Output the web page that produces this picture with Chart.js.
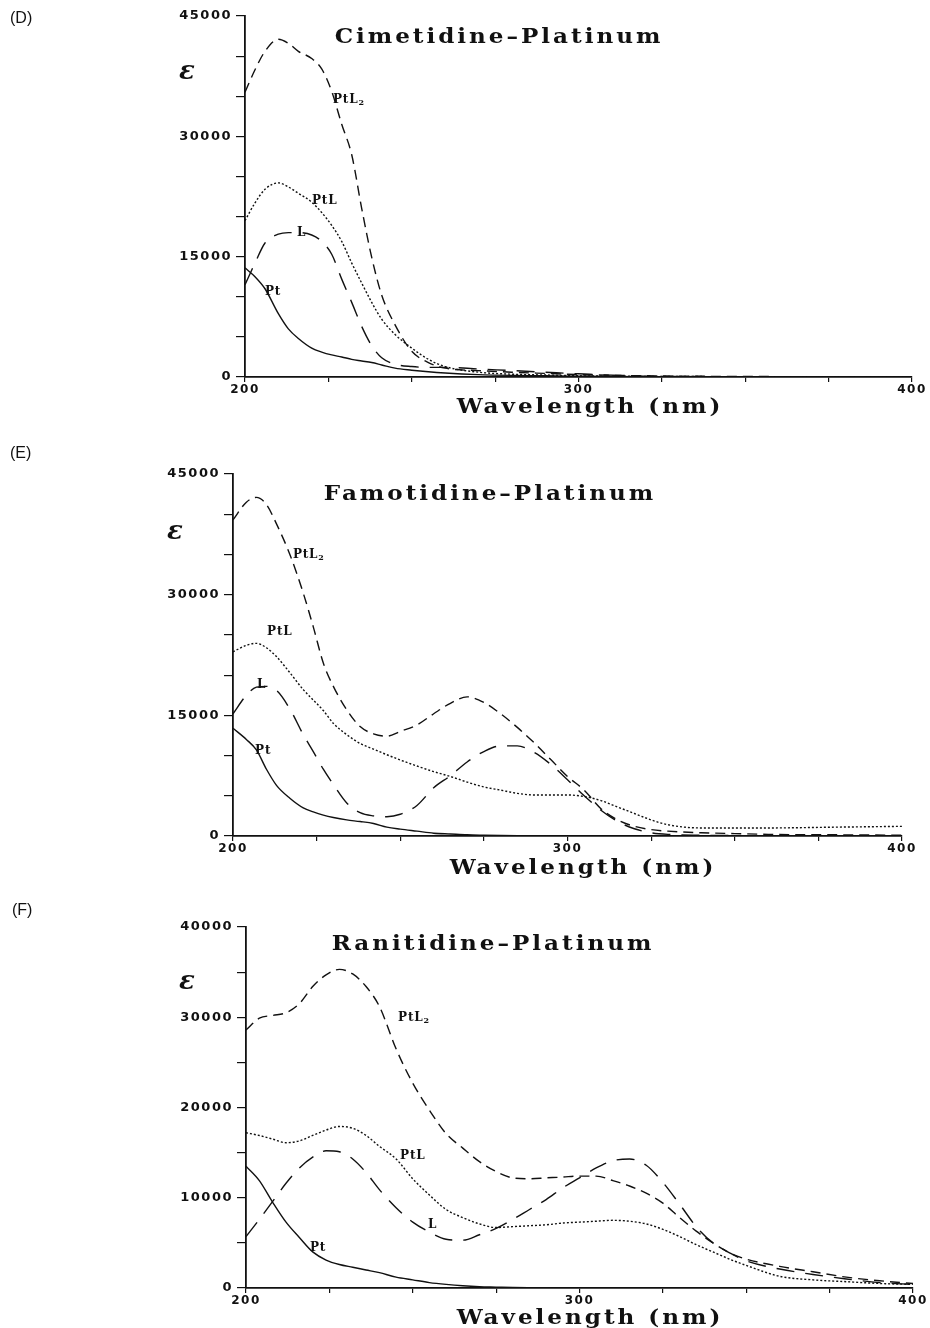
<!DOCTYPE html>
<html>
<head>
<meta charset="utf-8">
<script src="https://cdn.jsdelivr.net/npm/chart.js@4.4.1/dist/chart.umd.min.js"></script>
<style>
  body { margin: 0; background: #fff; }
  #page { position: relative; width: 930px; height: 1328px; overflow: hidden; background: #fff; }
  canvas { position: absolute; left: 0; }
  .txt { position: absolute; transform: translate(-50%, -50%); white-space: nowrap; color: #111; }
  .letter { font: 16px "Liberation Sans", Arial, sans-serif; transform: translate(0, -50%); }
  .title, .xlab { font: bold 21px "DejaVu Serif", serif; letter-spacing: 2.7px; transform: translate(-50%, -50%) scaleX(1.1); }
  .eps { font: italic bold 26px "DejaVu Serif", serif; }
</style>
</head>
<body>
<div id="page">
  <canvas id="chartD" style="top:0" width="930" height="420"></canvas>
  <canvas id="chartE" style="top:420px" width="930" height="460"></canvas>
  <canvas id="chartF" style="top:880px" width="930" height="448"></canvas>

  <div class="txt letter" style="left:10px; top:18px">(D)</div>
  <div class="txt title" style="left:499px; top:35px">Cimetidine–Platinum</div>
  <div class="txt eps" style="left:187px; top:70px">ε</div>
  <div class="txt xlab" style="left:590px; top:405px">Wavelength (nm)</div>

  <div class="txt letter" style="left:10px; top:453px">(E)</div>
  <div class="txt title" style="left:490px; top:492px">Famotidine–Platinum</div>
  <div class="txt eps" style="left:175px; top:530px">ε</div>
  <div class="txt xlab" style="left:583px; top:866px">Wavelength (nm)</div>

  <div class="txt letter" style="left:12px; top:910px">(F)</div>
  <div class="txt title" style="left:493px; top:942px">Ranitidine–Platinum</div>
  <div class="txt eps" style="left:187px; top:980px">ε</div>
  <div class="txt xlab" style="left:590px; top:1316px">Wavelength (nm)</div>
</div>
<script>
// DATA

const xTickLabels = [200, 300, 400];

// (D) Cimetidine-Platinum
const wlD = [200, 203, 206, 210, 213, 216, 220, 223, 226, 229, 232, 235, 238, 241, 245, 250, 255, 260, 270, 280, 290, 300, 320, 340, 360, 380, 400];
const dPtL2 = [35500, 38300, 40600, 42100, 41600, 40600, 39700, 38400, 35600, 31500, 27700, 21000, 14900, 10200, 6500, 3200, 1800, 1100, 800, 600, 450, 300, 150, 80, 50, 30, 0];
const dPtL = [19500, 21700, 23400, 24200, 23700, 22900, 21800, 20500, 18900, 16900, 14200, 11700, 9300, 7200, 5300, 3600, 2200, 1300, 600, 350, 250, 150, 80, 50, 30, 20, 0];
const dL = [11500, 14200, 16700, 17800, 18000, 18000, 17700, 16900, 15300, 12200, 9300, 6300, 3900, 2400, 1600, 1300, 1200, 1200, 1000, 800, 600, 400, 100, 50, 30, 20, 0];
const dPt = [13600, 12500, 11000, 7900, 6000, 4800, 3600, 3100, 2750, 2500, 2200, 2000, 1800, 1500, 1100, 850, 650, 500, 300, 200, 150, 100, 50, 30, 20, 10, 0];
const yTickLabelsD = [0, 15000, 30000, 45000];

// (E) Famotidine-Platinum
const wlE = [200, 204, 207, 210, 213, 217, 221, 224, 227, 230, 234, 238, 242, 246, 250, 255, 260, 265, 270, 275, 280, 285, 290, 295, 300, 305, 310, 315, 320, 325, 330, 340, 350, 360, 380, 400];
const ePtL2 = [39300, 41500, 42100, 41200, 38800, 35000, 30200, 26000, 21500, 18600, 15700, 13600, 12700, 12400, 13000, 13800, 15200, 16500, 17300, 16600, 15200, 13500, 11600, 9500, 7400, 5700, 3400, 2000, 1200, 800, 600, 400, 300, 200, 150, 100];
const ePtL = [22900, 23700, 23950, 23400, 22300, 20300, 18200, 16900, 15600, 14000, 12600, 11500, 10800, 10100, 9450, 8700, 8000, 7400, 6700, 6100, 5700, 5300, 5100, 5100, 5100, 4900, 4400, 3600, 2800, 2000, 1400, 1000, 1000, 1000, 1100, 1200];
const eL = [15200, 17500, 18500, 18600, 18100, 15800, 12600, 10500, 8300, 6400, 4100, 2900, 2500, 2400, 2700, 3800, 6000, 7500, 9200, 10500, 11200, 11200, 10400, 8900, 7000, 5000, 3200, 1800, 900, 400, 200, 100, 50, 30, 20, 0];
const ePt = [13400, 12000, 10700, 8300, 6300, 4700, 3500, 3000, 2600, 2300, 2000, 1800, 1550, 1100, 850, 600, 350, 250, 150, 100, 60, 40, 30, 20, 10, 10, 0, 0, 0, 0, 0, 0, 0, 0, 0, 0];
const yTickLabelsE = [0, 15000, 30000, 45000];

// (F) Ranitidine-Platinum
const wlF = [200, 204, 208, 212, 216, 220, 224, 228, 232, 236, 240, 245, 250, 255, 260, 265, 270, 275, 280, 285, 290, 295, 300, 305, 310, 315, 320, 325, 330, 335, 340, 345, 350, 360, 370, 380, 390, 400];
const fPtL2 = [28600, 29900, 30200, 30500, 31500, 33400, 34700, 35300, 34800, 33400, 31200, 26500, 22700, 19700, 17100, 15500, 14000, 12900, 12200, 12100, 12200, 12300, 12400, 12400, 11900, 11300, 10500, 9400, 7800, 6300, 5000, 3900, 3200, 2400, 1800, 1200, 800, 500];
const fPtL = [17200, 16900, 16500, 16100, 16300, 16900, 17500, 17900, 17700, 16900, 15700, 14300, 12100, 10300, 8700, 7800, 7100, 6700, 6800, 6900, 7000, 7200, 7300, 7400, 7500, 7400, 7100, 6500, 5700, 4800, 4000, 3200, 2500, 1300, 900, 700, 500, 400];
const fL = [5700, 7600, 9600, 11600, 13300, 14500, 15200, 15100, 14300, 12800, 10900, 8900, 7300, 6200, 5400, 5300, 5900, 6600, 7600, 8700, 9800, 11100, 12200, 13300, 14100, 14300, 13600, 11700, 9300, 6800, 5000, 3900, 3000, 2100, 1500, 1000, 600, 400];
const fPt = [13500, 11900, 9500, 7300, 5600, 4000, 3100, 2600, 2300, 2000, 1700, 1200, 900, 600, 400, 250, 150, 100, 50, 30, 20, 10, 0, 0, 0, 0, 0, 0, 0, 0, 0, 0, 0, 0, 0, 0, 0, 0];
const yTickLabelsF = [0, 10000, 20000, 30000, 40000];

// PLUGINS

// widen the tick numbers a little, the scanned ones are broad
const tickSpacing = {
    id: "tickSpacing",
    beforeDraw(chart) { chart.ctx.letterSpacing = "1.5px"; },
    afterDraw(chart) { chart.ctx.letterSpacing = "0px"; }
};

const curveLabels = {
    id: "curveLabels",
    afterDatasetsDraw(chart, args, opts) {
        const ctx = chart.ctx;
        const xs = chart.scales.x;
        const ys = chart.scales.y;
        ctx.save();
        ctx.letterSpacing = "0.8px";
        ctx.fillStyle = "#111";
        ctx.textBaseline = "middle";
        ctx.textAlign = "left";
        (opts.items || []).forEach(it => {
            const px = xs.getPixelForValue(it.at[0]);
            const py = ys.getPixelForValue(it.at[1]);
            ctx.font = 'bold 12px "DejaVu Serif"';
            ctx.fillText(it.text, px, py);
            if (it.sub) {
                const w = ctx.measureText(it.text).width;
                ctx.font = 'bold 8px "DejaVu Serif"';
                ctx.fillText(it.sub, px + w, py + 3);
            }
        });
        ctx.restore();
    }
};

// BUILD CHART

const Y_W = 70;
const X_H = 25;

function makeChart(id, wl, series, yMax, yLabels, area, labels) {
    const canvas = document.getElementById(id);
    const h = canvas.height;
    const datasets = series.map(s => ({
        data: wl.map((x, i) => ({ x: x, y: s.values[i] })),
        borderColor: "#111",
        borderWidth: 1.4,
        borderDash: s.dash,
        pointRadius: 0,
        fill: false,
        cubicInterpolationMode: "monotone"
    }));

    return new Chart(canvas, {
        type: "line",
        data: { datasets },
        options: {
            responsive: false,
            animation: false,
            events: [],
            layout: {
                padding: {
                    left: area.left - Y_W,
                    right: canvas.width - area.right,
                    top: area.top,
                    bottom: h - area.bottom - X_H
                }
            },
            plugins: {
                legend: { display: false },
                tooltip: { enabled: false },
                curveLabels: { items: labels }
            },
            scales: {
                x: {
                    type: "linear",
                    min: 200,
                    max: 400,
                    afterFit(s) { s.height = X_H; },
                    ticks: {
                        stepSize: 25,
                        autoSkip: false,
                        maxRotation: 0,
                        padding: 1,
                        color: "#111",
                        font: { family: "DejaVu Sans", size: 12, weight: "bold" },
                        callback: v => xTickLabels.includes(v) ? String(v) : ""
                    },
                    grid: { drawOnChartArea: false, drawTicks: true, tickLength: 5, color: "#111", lineWidth: 1.2 },
                    border: { display: true, color: "#111", width: 1.8 }
                },
                y: {
                    min: 0,
                    max: yMax,
                    afterFit(s) { s.width = Y_W; },
                    ticks: {
                        stepSize: 5000,
                        autoSkip: false,
                        padding: 4,
                        color: "#111",
                        font: { family: "DejaVu Sans", size: 13, weight: "bold" },
                        callback: v => yLabels.includes(v) ? String(v) : ""
                    },
                    grid: { drawOnChartArea: false, drawTicks: true, tickLength: 9, color: "#111", lineWidth: 1.2 },
                    border: { display: true, color: "#111", width: 1.8 }
                }
            }
        },
        plugins: [tickSpacing, curveLabels]
    });
}

const DASH_PTL2 = [10, 6];
const DASH_PTL = [2, 2];
const DASH_L = [18, 11];
const SOLID = [];

makeChart("chartD", wlD, [
    { values: dPtL2, dash: DASH_PTL2 },
    { values: dPtL, dash: DASH_PTL },
    { values: dL, dash: DASH_L },
    { values: dPt, dash: SOLID }
], 45000, yTickLabelsD, { left: 245, right: 912, top: 16, bottom: 377 }, [
    { text: "PtL", sub: "2", at: [226.4, 34500] },
    { text: "PtL", at: [220.1, 22000] },
    { text: "L", at: [215.6, 18000] },
    { text: "Pt", at: [206, 10600] }
]);

makeChart("chartE", wlE, [
    { values: ePtL2, dash: DASH_PTL2 },
    { values: ePtL, dash: DASH_PTL },
    { values: eL, dash: DASH_L },
    { values: ePt, dash: SOLID }
], 45000, yTickLabelsE, { left: 233, right: 902, top: 54, bottom: 416 }, [
    { text: "PtL", sub: "2", at: [217.9, 35000] },
    { text: "PtL", at: [210.2, 25400] },
    { text: "L", at: [207.2, 18800] },
    { text: "Pt", at: [206.6, 10600] }
]);

makeChart("chartF", wlF, [
    { values: fPtL2, dash: DASH_PTL2 },
    { values: fPtL, dash: DASH_PTL },
    { values: fL, dash: DASH_L },
    { values: fPt, dash: SOLID }
], 40000, yTickLabelsF, { left: 246, right: 913, top: 47, bottom: 408 }, [
    { text: "PtL", sub: "2", at: [245.6, 29900] },
    { text: "PtL", at: [246.2, 14600] },
    { text: "L", at: [254.6, 7000] },
    { text: "Pt", at: [219.2, 4500] }
]);
</script>
</body>
</html>
